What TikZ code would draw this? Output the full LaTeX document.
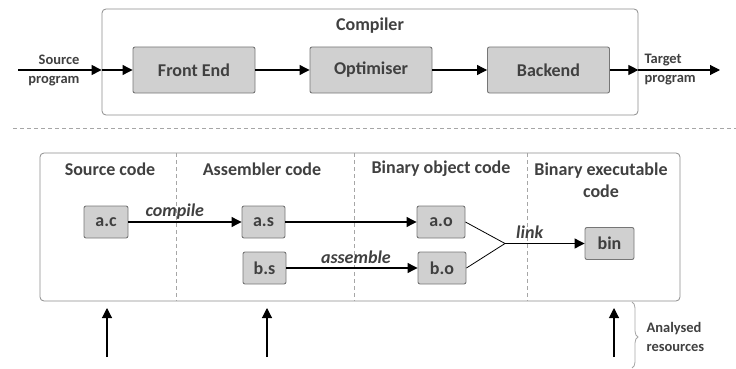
\documentclass[tikz,border=0pt]{standalone}
\usepackage{fontspec}
\setmainfont{Carlito}
\usetikzlibrary{arrows.meta,decorations.pathreplacing}
\definecolor{txt}{HTML}{404040}
\definecolor{boxfill}{HTML}{D0D0D0}
\definecolor{boxline}{HTML}{767676}
\definecolor{framecol}{HTML}{8C8C8C}
\definecolor{dashcol}{HTML}{A6A6A6}
\begin{document}
\begin{tikzpicture}[x=1pt,y=-1pt,
 every node/.style={text=txt,font=\fontsize{18}{22}\selectfont\bfseries},
 stage/.style={draw=boxline,fill=boxfill,rounded corners=2pt,line width=0.9pt,minimum height=46pt,minimum width=122pt,inner sep=0pt},
 file/.style={draw=boxline,fill=boxfill,rounded corners=2pt,line width=0.9pt,minimum height=32pt,inner sep=0pt},
 framebox/.style={draw=framecol,rounded corners=4pt,line width=0.8pt,inner sep=0pt},
 small/.style={font=\fontsize{14.5}{19}\selectfont\bfseries},
 lab/.style={font=\fontsize{18}{22}\selectfont\bfseries\itshape},
 flow/.style={-{Triangle[length=10pt,width=10pt]},line width=1.1pt,black},
 plain/.style={line width=0.8pt,black},
 divider/.style={draw=dashcol,line width=0.9pt,dash pattern=on 4pt off 3pt}
]
\useasboundingbox (0,0) rectangle (736,369);

% ---- top: compiler ----
\node[framebox,minimum width=536pt,minimum height=106pt] (comp) at (370,62) {};
\node (comptitle) at (370,26) {Compiler};
\node[stage] (fe) at (194,70) {Front End};
\node[stage] (opt) at (371,70) {Optimiser};
\node[stage] (be) at (548.5,70) {Backend};
\coordinate (src) at (18,70);
\coordinate (tgt) at (720,70);
\coordinate (cin) at (comp.west |- fe.west);
\coordinate (cout) at (comp.east |- be.east);
\draw[flow] (src) -- (cin);
\draw[flow] (cin) -- (fe.west);
\draw[flow] (fe) -- (opt);
\draw[flow] (opt) -- (be);
\draw[flow] (be) -- (cout);
\draw[flow] (cout) -- (tgt);
\node[small,align=right,anchor=east] (srclab) at (83,70) {Source\\program};
\node[small,align=left,anchor=west] (tgtlab) at (641,70) {Target\\program};

% ---- separator ----
\coordinate (sepa) at (13,128);
\coordinate (sepb) at (736,128);
\draw[divider] (sepa) -- (sepb);

% ---- bottom: stages ----
\node[framebox,minimum width=640pt,minimum height=148pt] (stages) at (360,227) {};
\draw[divider] (176,153) -- (176,301);
\draw[divider] (354,153) -- (354,301);
\draw[divider] (527,153) -- (527,301);
\node (h1) at (110,169) {Source code};
\node (h2) at (262,169) {Assembler code};
\node (h3) at (441,169) {Binary object code};
\node[align=center] (h4) at (601,180) {Binary executable\\code};

\node[file,minimum width=44pt] (ac) at (106,222) {a.c};
\node[file,minimum width=43pt] (as) at (263.5,222) {a.s};
\node[file,minimum width=43pt] (bs) at (264.5,268) {b.s};
\node[file,minimum width=48pt] (ao) at (441,222) {a.o};
\node[file,minimum width=48pt] (bo) at (442,268) {b.o};
\node[file,minimum width=49pt] (bin) at (609.5,243.5) {bin};
\coordinate (j) at (505,243.5);

\draw[flow] (ac) -- node[lab,pos=0.41,yshift=10pt] (lcomp) {compile} (as);
\draw[flow] (as) -- (ao);
\draw[flow] (bs) -- node[lab,pos=0.53,yshift=11pt] (lasm) {assemble} (bo);
\draw[plain] (ao.east) -- (j);
\draw[plain] (bo.east) -- (j);
\draw[flow] (j) -- node[lab,pos=0.31,yshift=11pt] (llink) {link} (bin);

% ---- analysed resources ----
\coordinate (r1s) at (107,357); \coordinate (r1e) at (107,308);
\coordinate (r2s) at (267,357); \coordinate (r2e) at (267,308);
\coordinate (r3s) at (614,357); \coordinate (r3e) at (614,308);
\draw[flow] (r1s) -- (r1e);
\draw[flow] (r2s) -- (r2e);
\draw[flow] (r3s) -- (r3e);
\coordinate (bra) at (632,302);
\coordinate (brb) at (632,368);
\draw[draw=dashcol,line width=0.8pt,decorate,decoration={brace,amplitude=6pt,aspect=0.53}] (bra) -- (brb);
\node[small,align=left,anchor=west] (res) at (643,337) {Analysed\\resources};
\end{tikzpicture}
\end{document}
